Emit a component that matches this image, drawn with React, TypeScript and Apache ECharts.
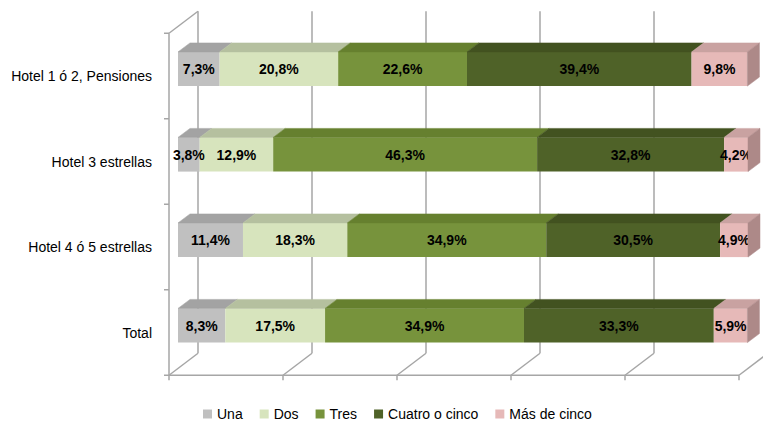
import React, { useEffect, useRef } from "react";
import * as echarts from "echarts";

const categories = ["Hotel 1 ó 2, Pensiones", "Hotel 3 estrellas", "Hotel 4 ó 5 estrellas", "Total"];
const seriesNames = ["Una", "Dos", "Tres", "Cuatro o cinco", "Más de cinco"];
const una = [7.3, 3.8, 11.4, 8.3];
const dos = [20.8, 12.9, 18.3, 17.5];
const tres = [22.6, 46.3, 34.9, 34.9];
const cuatro = [39.4, 32.8, 30.5, 33.3];
const mas = [9.8, 4.2, 4.9, 5.9];
const xTicks = [0, 20, 40, 60, 80, 100];

const seriesValues = [una, dos, tres, cuatro, mas];
const frontColors = ["#c0c0c0", "#d7e4bd", "#77933c", "#4f6228", "#e6b9b8"];
const topColors = ["#a3a3a3", "#b5c09f", "#66802f", "#425220", "#c9a2a1"];
const sideColors = ["#8f8f8f", "#a3ad8f", "#5a7029", "#394719", "#ad8988"];

const FONT = "'Liberation Sans', Arial, sans-serif";
const DX = 12; // bar depth (px)
const DY = 9;
const BACK_DX = 20;
const BACK_DY = 15;
const FRONT_DX = 9;
const FRONT_DY = 7;
const WALL = "#a6a6a6";

export default function App() {
  const ref = useRef<HTMLDivElement>(null);
  useEffect(() => {
    if (!ref.current) return;
    const chart = echarts.init(ref.current, undefined, { renderer: "svg" });

    const faceData: number[][] = [];
    categories.forEach((_, c) => {
      let cum = 0;
      seriesValues.forEach((vals, s) => {
        faceData.push([cum, cum + vals[c], c, s]);
        cum += vals[c];
      });
    });

    const barSeries = seriesNames.map((name, s) => ({
      name,
      type: "bar",
      stack: "total",
      barWidth: "40%",
      z: 3,
      data: seriesValues[s],
      itemStyle: { color: frontColors[s] },
      label: {
        show: true,
        position: "inside",
        color: "#000",
        fontWeight: "bold",
        fontSize: 14,
        fontFamily: FONT,
        formatter: (p: any) => String(p.value).replace(".", ",") + "%",
      },
    }));

    const option: any = {
      animation: false,
      backgroundColor: "#fff",
      textStyle: { fontFamily: FONT },
      grid: { left: 178, width: 570, top: 26.25, height: 342 },
      legend: {
        data: seriesNames,
        left: 203,
        top: 407,
        padding: 0,
        icon: "rect",
        itemWidth: 9,
        itemHeight: 9,
        itemGap: 17,
        textStyle: { fontSize: 14, color: "#000", fontFamily: FONT },
      },
      xAxis: {
        type: "value",
        min: 0,
        max: 100,
        interval: 20,
        axisLine: { show: false },
        axisTick: { show: false },
        axisLabel: { show: false },
        splitLine: { show: false },
      },
      yAxis: {
        type: "category",
        inverse: true,
        data: categories,
        axisLine: { show: false },
        axisTick: { show: false },
        axisLabel: {
          margin: 26,
          fontSize: 14,
          color: "#000",
          fontFamily: FONT,
          verticalAlign: "top",
          lineHeight: 14,
        },
      },
      series: [
        {
          type: "custom",
          name: "walls",
          z: 1,
          silent: true,
          data: xTicks.map((v) => [v, 0]),
          encode: { x: 0, y: 1 },
          renderItem: (params: any, api: any) => {
            const cs = params.coordSys;
            const v = api.value(0);
            const x = api.coord([v, 0])[0];
            const top = cs.y;
            const bottom = cs.y + cs.height;
            const ls = { stroke: WALL, lineWidth: 1.5 };
            const children: any[] = [
              { type: "line", shape: { x1: x + BACK_DX, y1: top - BACK_DY, x2: x + BACK_DX, y2: bottom - BACK_DY }, style: ls },
              { type: "line", shape: { x1: x - FRONT_DX, y1: bottom + FRONT_DY, x2: x + BACK_DX, y2: bottom - BACK_DY }, style: ls },
              { type: "line", shape: { x1: x - FRONT_DX, y1: bottom + FRONT_DY, x2: x - FRONT_DX, y2: bottom + FRONT_DY + 5 }, style: ls },
            ];
            if (params.dataIndex === 0) {
              const xEnd = api.coord([xTicks[xTicks.length - 1], 0])[0];
              const fx = x - FRONT_DX;
              children.push(
                { type: "line", shape: { x1: fx, y1: top + FRONT_DY, x2: fx, y2: bottom + FRONT_DY }, style: ls },
                { type: "line", shape: { x1: fx, y1: top + FRONT_DY, x2: x + BACK_DX, y2: top - BACK_DY }, style: ls },
                { type: "line", shape: { x1: fx, y1: bottom + FRONT_DY, x2: xEnd - FRONT_DX, y2: bottom + FRONT_DY }, style: ls }
              );
              const n = categories.length;
              for (let k = 0; k <= n; k++) {
                const yy = top + (cs.height * k) / n + FRONT_DY;
                children.push({ type: "line", shape: { x1: fx - 5, y1: yy, x2: fx, y2: yy }, style: ls });
              }
            }
            return { type: "group", children };
          },
        },
        ...barSeries,
        {
          type: "custom",
          name: "faces",
          z: 4,
          silent: true,
          data: faceData,
          encode: { x: [0, 1], y: 2 },
          renderItem: (params: any, api: any) => {
            const start = api.value(0);
            const end = api.value(1);
            const c = api.value(2);
            const s = api.value(3);
            const p0 = api.coord([start, c]);
            const p1 = api.coord([end, c]);
            const h = api.size([0, 1])[1] * 0.4;
            const yT = p0[1] - h / 2;
            const children: any[] = [
              {
                type: "polygon",
                shape: { points: [[p0[0], yT], [p1[0], yT], [p1[0] + DX, yT - DY], [p0[0] + DX, yT - DY]] },
                style: { fill: topColors[s], stroke: topColors[s], lineWidth: 0.5 },
              },
            ];
            if (s === seriesNames.length - 1) {
              children.push({
                type: "polygon",
                shape: { points: [[p1[0], yT], [p1[0] + DX, yT - DY], [p1[0] + DX, yT - DY + h], [p1[0], yT + h]] },
                style: { fill: sideColors[s], stroke: sideColors[s], lineWidth: 0.5 },
              });
            }
            return { type: "group", children };
          },
        },
      ],
    };
    chart.setOption(option);
    return () => chart.dispose();
  }, []);
  return (
    <div
      ref={ref}
      style={{ position: "fixed", left: 0, top: 0, width: 763, height: 421, background: "#fff" }}
    />
  );
}
